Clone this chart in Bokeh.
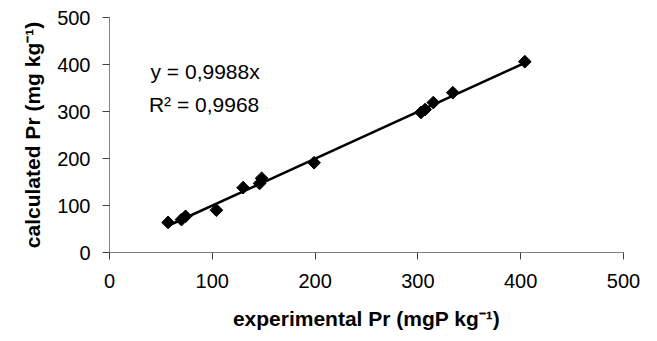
import numpy as np
from bokeh.plotting import figure
from bokeh.models import Range1d, FixedTicker, Label
from bokeh.embed import file_html
from bokeh.resources import INLINE

# data
exp_pr = [57, 70, 74, 104, 130, 146, 148, 199, 303, 307, 315, 334, 404]
calc_pr = [64, 70, 77, 90, 138, 147, 158, 191, 298, 304, 319, 340, 406]
slope = 0.9988
eq_text = "y = 0,9988x"
r2_text = "R² = 0,9968"
ticks = [0, 100, 200, 300, 400, 500]

p = figure(width=657, height=341, output_backend="svg", toolbar_location=None,
           x_range=Range1d(0, 500), y_range=Range1d(0, 500),
           min_border_left=109, min_border_right=34, min_border_top=17, min_border_bottom=89)
p.outline_line_color = None
p.xgrid.grid_line_color = None
p.ygrid.grid_line_color = None
p.background_fill_color = "white"

# trend line
xl = np.array([min(exp_pr), max(exp_pr)])
p.line(xl, slope * xl, line_color="black", line_width=2.5)

p.scatter(exp_pr, calc_pr, marker="square", angle=np.pi / 4, size=9,
          fill_color="black", line_color="black")

for ax in (p.xaxis, p.yaxis):
    ax.ticker = FixedTicker(ticks=ticks)
    ax.axis_line_color = "#808080"
    ax.axis_line_width = 1
    ax.major_tick_line_color = "#404040"
    ax.major_tick_in = 0
    ax.major_tick_out = 7
    ax.minor_tick_line_color = None
    ax.major_label_text_font = "Liberation Sans"
    ax.major_label_text_font_size = "20px"
    ax.major_label_text_color = "black"
    ax.axis_label_text_font = "Liberation Sans"
    ax.axis_label_text_font_size = "21px"
    ax.axis_label_text_font_style = "bold"
    ax.axis_label_text_color = "black"

p.xaxis.axis_label = "experimental Pr (mgP kg⁻¹)"
p.yaxis.axis_label = "calculated Pr (mg kg⁻¹)"
p.xaxis.major_label_standoff = 14
p.yaxis.major_label_standoff = 12
p.xaxis.axis_label_standoff = 16
p.yaxis.axis_label_standoff = 10

p.add_layout(Label(x=93, y=385, text=eq_text, text_align="center", text_baseline="middle",
                   text_font="Liberation Sans", text_font_size="21px", text_color="black"))
p.add_layout(Label(x=92, y=315, text=r2_text, text_align="center", text_baseline="middle",
                   text_font="Liberation Sans", text_font_size="21px", text_color="black"))

open("out.html", "w").write(file_html(p, INLINE))
